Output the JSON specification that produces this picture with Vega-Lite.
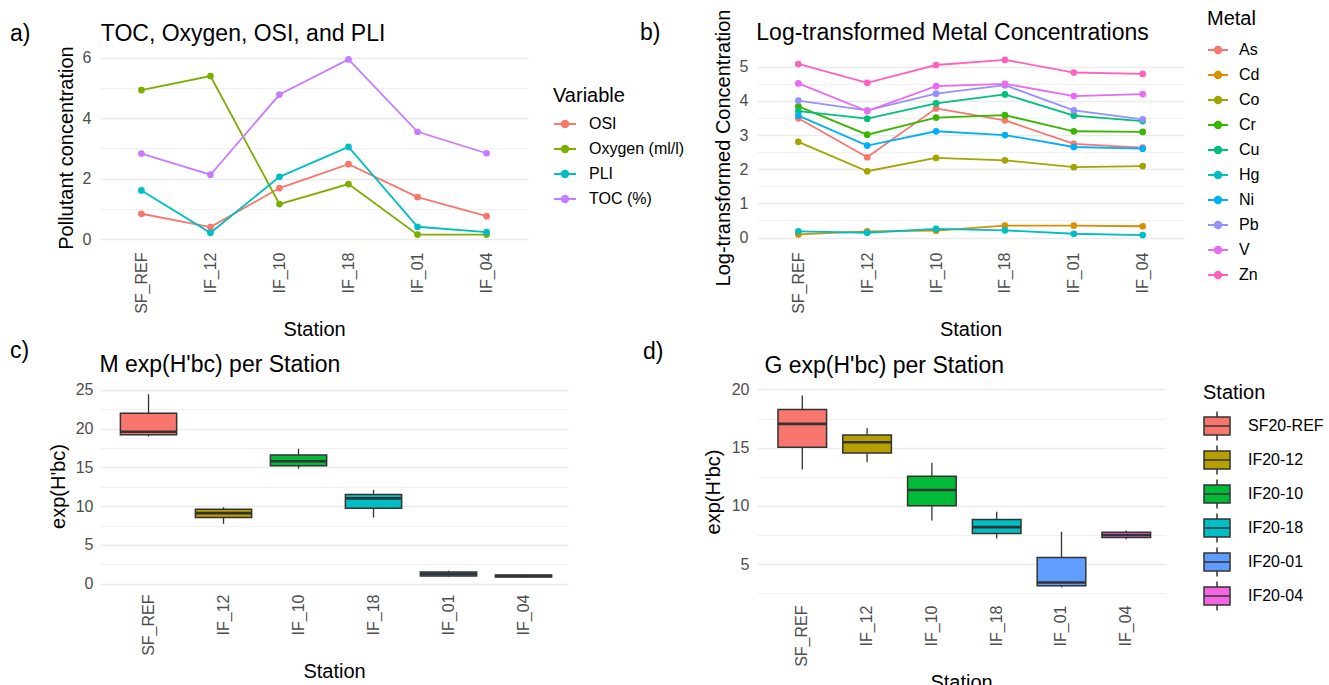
{
  "$schema": "https://vega.github.io/schema/vega-lite/v6.json",
  "background": "white",
  "padding": {"left": 10, "top": 9, "right": 0, "bottom": 0},
  "config": {
    "font": "Liberation Sans",
    "view": {"stroke": null},
    "axis": {"domain": false, "ticks": false, "gridColor": "#EBEBEB", "gridWidth": 1.3, "labelColor": "#4D4D4D", "labelFontSize": 16, "titleFontSize": 20, "titleFontWeight": "normal", "titleColor": "#000000", "labelPadding": 8, "labelOverlap": false},
    "legend": {"titleFontSize": 20, "titleFontWeight": "normal", "labelFontSize": 16, "labelColor": "#000000", "titleColor": "#000000", "padding": 0, "orient": "none"},
    "title": {"fontSize": 23, "fontWeight": "normal", "anchor": "start", "frame": "group", "color": "#000000"}
  },
  "columns": 2,
  "bounds": "flush",
  "align": "each",
  "spacing": {"row": 142, "column": 189},
  "resolve": {"scale": {"color": "independent", "fill": "independent", "x": "independent", "y": "independent"}, "legend": {"color": "independent", "fill": "independent"}},
  "datasets": {
    "lines_a": [
      {"Station": "SF_REF", "Variable": "OSI", "value": 0.84},
      {"Station": "IF_12", "Variable": "OSI", "value": 0.40},
      {"Station": "IF_10", "Variable": "OSI", "value": 1.69},
      {"Station": "IF_18", "Variable": "OSI", "value": 2.48},
      {"Station": "IF_01", "Variable": "OSI", "value": 1.39},
      {"Station": "IF_04", "Variable": "OSI", "value": 0.76},
      {"Station": "SF_REF", "Variable": "Oxygen (ml/l)", "value": 4.93},
      {"Station": "IF_12", "Variable": "Oxygen (ml/l)", "value": 5.39},
      {"Station": "IF_10", "Variable": "Oxygen (ml/l)", "value": 1.16},
      {"Station": "IF_18", "Variable": "Oxygen (ml/l)", "value": 1.82},
      {"Station": "IF_01", "Variable": "Oxygen (ml/l)", "value": 0.15},
      {"Station": "IF_04", "Variable": "Oxygen (ml/l)", "value": 0.15},
      {"Station": "SF_REF", "Variable": "PLI", "value": 1.61},
      {"Station": "IF_12", "Variable": "PLI", "value": 0.21},
      {"Station": "IF_10", "Variable": "PLI", "value": 2.06},
      {"Station": "IF_18", "Variable": "PLI", "value": 3.05},
      {"Station": "IF_01", "Variable": "PLI", "value": 0.41},
      {"Station": "IF_04", "Variable": "PLI", "value": 0.23},
      {"Station": "SF_REF", "Variable": "TOC (%)", "value": 2.83},
      {"Station": "IF_12", "Variable": "TOC (%)", "value": 2.13},
      {"Station": "IF_10", "Variable": "TOC (%)", "value": 4.78},
      {"Station": "IF_18", "Variable": "TOC (%)", "value": 5.94},
      {"Station": "IF_01", "Variable": "TOC (%)", "value": 3.55},
      {"Station": "IF_04", "Variable": "TOC (%)", "value": 2.84}
    ],
    "metals_b": [
      {"Station": "SF_REF", "Metal": "As", "value": 3.49}, {"Station": "IF_12", "Metal": "As", "value": 2.35}, {"Station": "IF_10", "Metal": "As", "value": 3.78}, {"Station": "IF_18", "Metal": "As", "value": 3.43}, {"Station": "IF_01", "Metal": "As", "value": 2.74}, {"Station": "IF_04", "Metal": "As", "value": 2.63},
      {"Station": "SF_REF", "Metal": "Cd", "value": 0.09}, {"Station": "IF_12", "Metal": "Cd", "value": 0.18}, {"Station": "IF_10", "Metal": "Cd", "value": 0.20}, {"Station": "IF_18", "Metal": "Cd", "value": 0.35}, {"Station": "IF_01", "Metal": "Cd", "value": 0.35}, {"Station": "IF_04", "Metal": "Cd", "value": 0.33},
      {"Station": "SF_REF", "Metal": "Co", "value": 2.80}, {"Station": "IF_12", "Metal": "Co", "value": 1.94}, {"Station": "IF_10", "Metal": "Co", "value": 2.33}, {"Station": "IF_18", "Metal": "Co", "value": 2.26}, {"Station": "IF_01", "Metal": "Co", "value": 2.06}, {"Station": "IF_04", "Metal": "Co", "value": 2.09},
      {"Station": "SF_REF", "Metal": "Cr", "value": 3.84}, {"Station": "IF_12", "Metal": "Cr", "value": 3.01}, {"Station": "IF_10", "Metal": "Cr", "value": 3.51}, {"Station": "IF_18", "Metal": "Cr", "value": 3.58}, {"Station": "IF_01", "Metal": "Cr", "value": 3.11}, {"Station": "IF_04", "Metal": "Cr", "value": 3.09},
      {"Station": "SF_REF", "Metal": "Cu", "value": 3.70}, {"Station": "IF_12", "Metal": "Cu", "value": 3.48}, {"Station": "IF_10", "Metal": "Cu", "value": 3.93}, {"Station": "IF_18", "Metal": "Cu", "value": 4.19}, {"Station": "IF_01", "Metal": "Cu", "value": 3.57}, {"Station": "IF_04", "Metal": "Cu", "value": 3.41},
      {"Station": "SF_REF", "Metal": "Hg", "value": 0.18}, {"Station": "IF_12", "Metal": "Hg", "value": 0.14}, {"Station": "IF_10", "Metal": "Hg", "value": 0.25}, {"Station": "IF_18", "Metal": "Hg", "value": 0.21}, {"Station": "IF_01", "Metal": "Hg", "value": 0.11}, {"Station": "IF_04", "Metal": "Hg", "value": 0.07},
      {"Station": "SF_REF", "Metal": "Ni", "value": 3.57}, {"Station": "IF_12", "Metal": "Ni", "value": 2.69}, {"Station": "IF_10", "Metal": "Ni", "value": 3.11}, {"Station": "IF_18", "Metal": "Ni", "value": 3.00}, {"Station": "IF_01", "Metal": "Ni", "value": 2.65}, {"Station": "IF_04", "Metal": "Ni", "value": 2.60},
      {"Station": "SF_REF", "Metal": "Pb", "value": 4.01}, {"Station": "IF_12", "Metal": "Pb", "value": 3.72}, {"Station": "IF_10", "Metal": "Pb", "value": 4.21}, {"Station": "IF_18", "Metal": "Pb", "value": 4.46}, {"Station": "IF_01", "Metal": "Pb", "value": 3.72}, {"Station": "IF_04", "Metal": "Pb", "value": 3.46},
      {"Station": "SF_REF", "Metal": "V", "value": 4.51}, {"Station": "IF_12", "Metal": "V", "value": 3.70}, {"Station": "IF_10", "Metal": "V", "value": 4.43}, {"Station": "IF_18", "Metal": "V", "value": 4.50}, {"Station": "IF_01", "Metal": "V", "value": 4.14}, {"Station": "IF_04", "Metal": "V", "value": 4.20},
      {"Station": "SF_REF", "Metal": "Zn", "value": 5.08}, {"Station": "IF_12", "Metal": "Zn", "value": 4.53}, {"Station": "IF_10", "Metal": "Zn", "value": 5.05}, {"Station": "IF_18", "Metal": "Zn", "value": 5.20}, {"Station": "IF_01", "Metal": "Zn", "value": 4.83}, {"Station": "IF_04", "Metal": "Zn", "value": 4.79}
    ],
    "box_c": [
      {"Station": "SF_REF", "Group": "SF20-REF", "lower": 19.0, "q1": 19.2, "median": 19.6, "q3": 22.0, "upper": 24.44},
      {"Station": "IF_12", "Group": "IF20-12", "lower": 7.72, "q1": 8.53, "median": 9.1, "q3": 9.6, "upper": 9.86},
      {"Station": "IF_10", "Group": "IF20-10", "lower": 14.84, "q1": 15.2, "median": 15.8, "q3": 16.6, "upper": 17.4},
      {"Station": "IF_18", "Group": "IF20-18", "lower": 8.53, "q1": 9.73, "median": 11.0, "q3": 11.5, "upper": 12.1},
      {"Station": "IF_01", "Group": "IF20-01", "lower": 0.9, "q1": 0.99, "median": 1.24, "q3": 1.5, "upper": 1.67},
      {"Station": "IF_04", "Group": "IF20-04", "lower": 0.82, "q1": 0.86, "median": 0.99, "q3": 1.11, "upper": 1.15}
    ],
    "box_d": [
      {"Station": "SF_REF", "Group": "SF20-REF", "lower": 13.12, "q1": 15.04, "median": 17.05, "q3": 18.28, "upper": 19.48},
      {"Station": "IF_12", "Group": "IF20-12", "lower": 13.75, "q1": 14.55, "median": 15.47, "q3": 16.1, "upper": 16.7},
      {"Station": "IF_10", "Group": "IF20-10", "lower": 8.76, "q1": 10.02, "median": 11.37, "q3": 12.54, "upper": 13.7},
      {"Station": "IF_18", "Group": "IF20-18", "lower": 7.21, "q1": 7.64, "median": 8.18, "q3": 8.84, "upper": 9.5},
      {"Station": "IF_01", "Group": "IF20-01", "lower": 3.0, "q1": 3.14, "median": 3.42, "q3": 5.57, "upper": 7.78},
      {"Station": "IF_04", "Group": "IF20-04", "lower": 7.15, "q1": 7.3, "median": 7.5, "q3": 7.73, "upper": 7.9}
    ]
  },
  "concat": [
    {
      "width": 428, "height": 193,
      "title": {"text": "a)\u00a0\u00a0\u00a0\u00a0\u00a0\u00a0\u00a0\u00a0\u00a0\u00a0\u00a0TOC, Oxygen, OSI, and PLI", "dx": -90, "offset": 0},
      "data": {"name": "lines_a"},
      "encoding": {
        "x": {"field": "Station", "type": "nominal", "sort": ["SF_REF", "IF_12", "IF_10", "IF_18", "IF_01", "IF_04"], "scale": {"type": "point", "padding": 0.6}, "axis": {"labelAngle": -90, "title": "Station", "titlePadding": 6}},
        "y": {"field": "value", "type": "quantitative", "scale": {"domain": [-0.16, 6.22], "nice": false, "zero": false}, "axis": {"title": "Pollutant concentration", "values": [0, 1, 2, 3, 4, 5, 6], "labelExpr": "datum.value % 2 === 0 ? format(datum.value, 'd') : ''", "gridWidth": {"condition": {"test": "datum.value % 2 === 0", "value": 1.3}, "value": 0.7}, "labelPadding": 9, "titlePadding": 6}},
        "color": {"field": "Variable", "type": "nominal", "scale": {"domain": ["OSI", "Oxygen (ml/l)", "PLI", "TOC (%)"], "range": ["#F8766D", "#7CAE00", "#00BFC4", "#C77CFF"]},
          "legend": {"title": "Variable", "legendX": 453, "legendY": 35, "symbolType": "M-1,0H1M-0.3,0A0.3,0.3,0,1,1,0.3,0A0.3,0.3,0,1,1,-0.3,0", "symbolSize": 484, "symbolStrokeWidth": 1.8, "labelOffset": 12, "titlePadding": 6, "rowPadding": 5}}
      },
      "layer": [
        {"mark": {"type": "line", "strokeWidth": 1.8}},
        {"mark": {"type": "point", "filled": true, "size": 45, "opacity": 1}}
      ]
    },
    {
      "width": 427, "height": 193,
      "title": {"text": "b)\u00a0\u00a0\u00a0\u00a0\u00a0\u00a0\u00a0\u00a0\u00a0\u00a0\u00a0\u00a0\u00a0\u00a0\u00a0Log-transformed Metal Concentrations", "dx": -117, "offset": -36},
      "data": {"name": "metals_b"},
      "encoding": {
        "x": {"field": "Station", "type": "nominal", "sort": ["SF_REF", "IF_12", "IF_10", "IF_18", "IF_01", "IF_04"], "scale": {"type": "point", "padding": 0.6}, "axis": {"labelAngle": -90, "title": "Station", "titlePadding": 6}},
        "y": {"field": "value", "type": "quantitative", "scale": {"domain": [-0.19, 5.46], "nice": false, "zero": false}, "axis": {"title": "Log-transformed Concentration", "values": [0, 0.5, 1, 1.5, 2, 2.5, 3, 3.5, 4, 4.5, 5], "labelExpr": "datum.value % 1 === 0 ? format(datum.value, 'd') : ''", "gridWidth": {"condition": {"test": "datum.value % 1 === 0", "value": 1.3}, "value": 0.7}, "labelPadding": 9, "titlePadding": 6}},
        "color": {"field": "Metal", "type": "nominal", "scale": {"domain": ["As", "Cd", "Co", "Cr", "Cu", "Hg", "Ni", "Pb", "V", "Zn"], "range": ["#F8766D", "#D89000", "#A3A500", "#39B600", "#00BF7D", "#00BFC4", "#00B0F6", "#9590FF", "#E76BF3", "#FF62BC"]},
          "legend": {"title": "Metal", "legendX": 450, "legendY": -42, "symbolType": "M-1,0H1M-0.33,0A0.33,0.33,0,1,1,0.33,0A0.33,0.33,0,1,1,-0.33,0", "symbolSize": 400, "symbolStrokeWidth": 1.8, "labelOffset": 10, "titlePadding": 10, "rowPadding": 6}}
      },
      "layer": [
        {"mark": {"type": "line", "strokeWidth": 1.8}},
        {"mark": {"type": "point", "filled": true, "size": 45, "opacity": 1}}
      ]
    },
    {
      "width": 468, "height": 200,
      "title": {"text": ["c)", "\u200b\u00a0\u00a0\u00a0\u00a0\u00a0\u00a0\u00a0\u00a0\u00a0\u00a0\u00a0\u00a0\u00a0\u00a0M exp(H'bc) per Station"], "lineHeight": 14, "dx": -90, "offset": 5},
      "data": {"name": "box_c"},
      "encoding": {
        "x": {"field": "Station", "type": "nominal", "sort": ["SF_REF", "IF_12", "IF_10", "IF_18", "IF_01", "IF_04"], "scale": {"type": "band", "paddingInner": 0.25, "paddingOuter": 0.245, "align": 0.555}, "axis": {"labelAngle": -90, "title": "Station", "titlePadding": 6, "bandPosition": 0.5}}
      },
      "layer": [
        {"mark": {"type": "rule", "color": "#333333", "strokeWidth": 1.3},
          "encoding": {
            "y": {"field": "lower", "type": "quantitative", "title": "exp(H'bc)", "scale": {"domain": [-0.3, 25.5], "nice": false, "zero": false}, "axis": {"values": [0, 2.5, 5, 7.5, 10, 12.5, 15, 17.5, 20, 22.5, 25], "labelExpr": "datum.value % 5 === 0 ? format(datum.value, 'd') : ''", "gridWidth": {"condition": {"test": "datum.value % 5 === 0", "value": 1.3}, "value": 0.7}, "labelPadding": 7, "titlePadding": 7}},
            "y2": {"field": "upper"}}},
        {"mark": {"type": "bar", "stroke": "#333333", "strokeWidth": 1.5},
          "encoding": {
            "y": {"field": "q1", "type": "quantitative", "title": "exp(H'bc)", "axis": {"values": [0, 2.5, 5, 7.5, 10, 12.5, 15, 17.5, 20, 22.5, 25], "labelExpr": "datum.value % 5 === 0 ? format(datum.value, 'd') : ''", "gridWidth": {"condition": {"test": "datum.value % 5 === 0", "value": 1.3}, "value": 0.7}, "labelPadding": 7, "titlePadding": 7}},
            "y2": {"field": "q3"},
            "fill": {"field": "Group", "type": "nominal", "scale": {"domain": ["SF20-REF", "IF20-12", "IF20-10", "IF20-18", "IF20-01", "IF20-04"], "range": ["#F8766D", "#B79F00", "#00BA38", "#00BFC4", "#619CFF", "#F564E3"]}, "legend": null}}},
        {"mark": {"type": "bar", "stroke": "#333333", "strokeWidth": 2.6, "fill": "#333333"},
          "encoding": {
            "y": {"field": "median", "type": "quantitative", "title": "exp(H'bc)", "axis": {"values": [0, 2.5, 5, 7.5, 10, 12.5, 15, 17.5, 20, 22.5, 25], "labelExpr": "datum.value % 5 === 0 ? format(datum.value, 'd') : ''", "gridWidth": {"condition": {"test": "datum.value % 5 === 0", "value": 1.3}, "value": 0.7}, "labelPadding": 7, "titlePadding": 7}},
            "y2": {"field": "median"}}}
      ]
    },
    {
      "width": 408, "height": 211,
      "title": {"text": ["d)", "\u200b\u00a0\u00a0\u00a0\u00a0\u00a0\u00a0\u00a0\u00a0\u00a0\u00a0\u00a0\u00a0\u00a0\u00a0\u00a0\u00a0\u00a0\u00a0\u00a0G exp(H'bc) per Station"], "lineHeight": 14, "dx": -114, "offset": 3},
      "data": {"name": "box_d"},
      "encoding": {
        "x": {"field": "Station", "type": "nominal", "sort": ["SF_REF", "IF_12", "IF_10", "IF_18", "IF_01", "IF_04"], "scale": {"type": "band", "paddingInner": 0.25, "paddingOuter": 0.273, "align": 0.593}, "axis": {"labelAngle": -90, "title": "Station", "titlePadding": 6, "bandPosition": 0.5}}
      },
      "layer": [
        {"mark": {"type": "rule", "color": "#333333", "strokeWidth": 1.3},
          "encoding": {
            "y": {"field": "lower", "type": "quantitative", "title": "exp(H'bc)", "scale": {"domain": [2.18, 20.3], "nice": false, "zero": false}, "axis": {"values": [2.5, 5, 7.5, 10, 12.5, 15, 17.5, 20], "labelExpr": "datum.value % 5 === 0 ? format(datum.value, 'd') : ''", "gridWidth": {"condition": {"test": "datum.value % 5 === 0", "value": 1.3}, "value": 0.7}, "labelPadding": 8, "titlePadding": 8}},
            "y2": {"field": "upper"}}},
        {"mark": {"type": "bar", "stroke": "#333333", "strokeWidth": 1.5},
          "encoding": {
            "y": {"field": "q1", "type": "quantitative", "title": "exp(H'bc)", "axis": {"values": [2.5, 5, 7.5, 10, 12.5, 15, 17.5, 20], "labelExpr": "datum.value % 5 === 0 ? format(datum.value, 'd') : ''", "gridWidth": {"condition": {"test": "datum.value % 5 === 0", "value": 1.3}, "value": 0.7}, "labelPadding": 8, "titlePadding": 8}},
            "y2": {"field": "q3"},
            "fill": {"field": "Group", "type": "nominal", "scale": {"domain": ["SF20-REF", "IF20-12", "IF20-10", "IF20-18", "IF20-01", "IF20-04"], "range": ["#F8766D", "#B79F00", "#00BA38", "#00BFC4", "#619CFF", "#F564E3"]},
              "legend": {"title": "Station", "legendX": 446, "legendY": -3, "symbolType": "M-1,-0.69H1V0.69H-1Z M-1,0H1 M0,-0.69V-1.12 M0,0.69V1.12", "symbolSize": 676, "labelOffset": 17, "titlePadding": 9, "rowPadding": -2,
                "encode": {"symbols": {"update": {"stroke": {"value": "#333333"}, "strokeWidth": {"value": 1.5}, "opacity": {"value": 1}}}}}}}},
        {"mark": {"type": "bar", "stroke": "#333333", "strokeWidth": 2.6, "fill": "#333333"},
          "encoding": {
            "y": {"field": "median", "type": "quantitative", "title": "exp(H'bc)", "axis": {"values": [2.5, 5, 7.5, 10, 12.5, 15, 17.5, 20], "labelExpr": "datum.value % 5 === 0 ? format(datum.value, 'd') : ''", "gridWidth": {"condition": {"test": "datum.value % 5 === 0", "value": 1.3}, "value": 0.7}, "labelPadding": 8, "titlePadding": 8}},
            "y2": {"field": "median"}}}
      ]
    }
  ]
}
